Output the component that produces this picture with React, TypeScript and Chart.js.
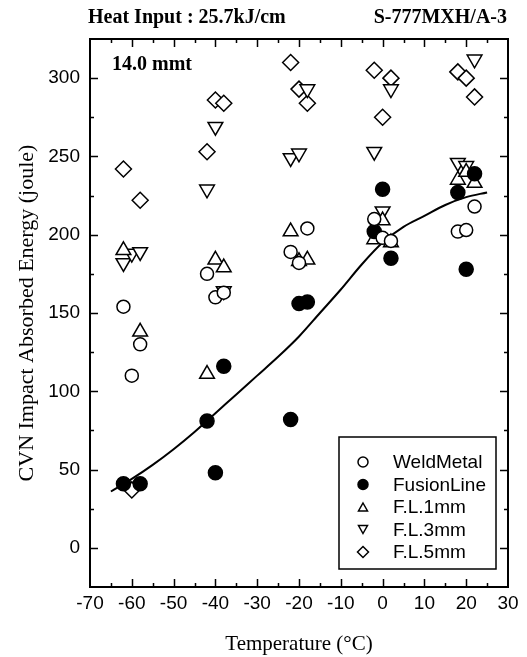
import React, { useEffect, useRef } from 'react';
import { Chart, registerables } from 'chart.js';

Chart.register(...registerables);

// ---- data ----
const weldT = [-62, -60, -58, -42, -40, -38, -22, -20, -18, -2, 0, 2, 18, 20, 22];
const weldE = [154, 110, 130, 175, 160, 163, 189, 182, 204, 210, 198, 196, 202, 203, 218];

const fusionT = [-62, -58, -42, -40, -38, -22, -20, -18, -2, 0, 2, 18, 20, 22];
const fusionE = [41, 41, 81, 48, 116, 82, 156, 157, 202, 229, 185, 227, 178, 239];

const fl1T = [-62, -58, -42, -40, -38, -22, -20, -18, -2, 0, 2, 18, 20, 22];
const fl1E = [190, 138, 111, 184, 179, 202, 183, 184, 197, 209, 195, 235, 240, 233];

const fl3T = [-62, -60, -58, -42, -40, -38, -22, -20, -18, -2, 0, 2, 18, 20, 22];
const fl3E = [182, 188, 189, 229, 269, 164, 249, 252, 293, 253, 215, 293, 246, 244, 312];

const fl5T = [-62, -60, -58, -42, -40, -38, -22, -20, -18, -2, 0, 2, 18, 20, 22];
const fl5E = [242, 37, 222, 253, 286, 284, 310, 293, 284, 305, 275, 300, 304, 300, 288];

const curveT = [-65, -60, -55, -50, -45, -40, -35, -30, -25, -20, -15, -10, -5, 0, 5, 10, 15, 20, 25];
const curveE = [36, 44, 53, 63, 74, 86, 98, 110, 122, 135, 150, 165, 181, 195, 205, 212, 219, 224, 227];

const xTickValues = [-70, -60, -50, -40, -30, -20, -10, 0, 10, 20, 30];
const yTickValues = [0, 50, 100, 150, 200, 250, 300];

const seriesNames = ['WeldMetal', 'FusionLine', 'F.L.1mm', 'F.L.3mm', 'F.L.5mm'];

const toXY = (xs: number[], ys: number[]) => xs.map((x, i) => ({ x, y: ys[i] }));

const SANS = '"Liberation Sans", Arial, sans-serif';
const SERIF = '"Liberation Serif", "Times New Roman", serif';

function drawMarker(ctx: CanvasRenderingContext2D, kind: number, x: number, y: number, r: number) {
  ctx.save();
  ctx.lineWidth = 1.5;
  ctx.strokeStyle = '#000';
  ctx.fillStyle = kind === 1 ? '#000' : '#fff';
  ctx.beginPath();
  if (kind === 0 || kind === 1) {
    ctx.arc(x, y, r, 0, Math.PI * 2);
  } else if (kind === 2) {
    const h = r * 1.6;
    const w = r * 1.8;
    ctx.moveTo(x, y - h / 2);
    ctx.lineTo(x + w / 2, y + h / 2);
    ctx.lineTo(x - w / 2, y + h / 2);
    ctx.closePath();
  } else if (kind === 3) {
    const h = r * 1.6;
    const w = r * 1.8;
    ctx.moveTo(x, y + h / 2);
    ctx.lineTo(x + w / 2, y - h / 2);
    ctx.lineTo(x - w / 2, y - h / 2);
    ctx.closePath();
  } else {
    ctx.moveTo(x, y - r * 1.1);
    ctx.lineTo(x + r * 1.1, y);
    ctx.lineTo(x, y + r * 1.1);
    ctx.lineTo(x - r * 1.1, y);
    ctx.closePath();
  }
  ctx.fill();
  ctx.stroke();
  ctx.restore();
}

const framePlugin = {
  id: 'frameTicks',
  afterDraw(chart: any) {
    const { ctx, chartArea } = chart;
    const xs = chart.scales.x;
    const ys = chart.scales.y;
    const { left, right, top, bottom } = chartArea;
    ctx.save();
    ctx.strokeStyle = '#000';
    ctx.lineWidth = 1.5;
    ctx.beginPath();
    for (let v = -65; v <= 25; v += 5) {
      const px = Math.round(xs.getPixelForValue(v)) + 0.5;
      const len = v % 10 === 0 ? 8 : 4;
      ctx.moveTo(px, bottom);
      ctx.lineTo(px, bottom - len);
      ctx.moveTo(px, top);
      ctx.lineTo(px, top + len);
    }
    for (let v = 0; v <= 300; v += 25) {
      const py = Math.round(ys.getPixelForValue(v)) + 0.5;
      const len = v % 50 === 0 ? 8 : 4;
      ctx.moveTo(left, py);
      ctx.lineTo(left + len, py);
      ctx.moveTo(right, py);
      ctx.lineTo(right - len, py);
    }
    ctx.stroke();
    ctx.lineWidth = 2;
    ctx.strokeRect(left, top, right - left, bottom - top);

    // header texts
    ctx.fillStyle = '#000';
    ctx.font = `bold 20px ${SERIF}`;
    ctx.textBaseline = 'alphabetic';
    ctx.textAlign = 'left';
    ctx.fillText('Heat Input : 25.7kJ/cm', 88, 23);
    ctx.textAlign = 'right';
    ctx.fillText('S-777MXH/A-3', 507, 23);
    ctx.textAlign = 'left';
    ctx.fillText('14.0 mmt', 112, 70);

    // legend
    const bx = 339, by = 437, bw = 157, bh = 132;
    ctx.fillStyle = '#fff';
    ctx.fillRect(bx, by, bw, bh);
    ctx.lineWidth = 1.5;
    ctx.strokeStyle = '#000';
    ctx.strokeRect(bx, by, bw, bh);
    ctx.font = `19px ${SANS}`;
    ctx.textBaseline = 'middle';
    ctx.textAlign = 'left';
    seriesNames.forEach((name, i) => {
      const ry = 462 + i * 22.5;
      drawMarker(ctx, i, 363, ry, 5);
      ctx.fillStyle = '#000';
      ctx.fillText(name, 393, ry + 1);
    });
    ctx.restore();
  },
};

export default function App() {
  const ref = useRef<HTMLCanvasElement | null>(null);

  useEffect(() => {
    if (!ref.current) return;
    const common = { borderColor: '#000', borderWidth: 1.5, showLine: false };
    const chart = new Chart(ref.current, {
      type: 'scatter',
      data: {
        datasets: [
          {
            label: seriesNames[0],
            data: toXY(weldT, weldE),
            pointStyle: 'circle',
            pointRadius: 6.5,
            backgroundColor: '#fff',
            ...common,
            order: 1,
          },
          {
            label: seriesNames[1],
            data: toXY(fusionT, fusionE),
            pointStyle: 'circle',
            pointRadius: 7,
            backgroundColor: '#000',
            ...common,
            order: 2,
          },
          {
            label: seriesNames[2],
            data: toXY(fl1T, fl1E),
            pointStyle: 'triangle',
            pointRadius: 8.5,
            backgroundColor: '#fff',
            ...common,
            order: 3,
          },
          {
            label: seriesNames[3],
            data: toXY(fl3T, fl3E),
            pointStyle: 'triangle',
            pointRotation: 180,
            pointRadius: 8.5,
            backgroundColor: '#fff',
            ...common,
            order: 4,
          },
          {
            label: seriesNames[4],
            data: toXY(fl5T, fl5E),
            pointStyle: 'rectRot',
            pointRadius: 8,
            backgroundColor: '#fff',
            ...common,
            order: 5,
          },
          {
            type: 'line',
            label: 'fit',
            data: toXY(curveT, curveE),
            borderColor: '#000',
            borderWidth: 2,
            pointRadius: 0,
            showLine: true,
            fill: false,
            cubicInterpolationMode: 'monotone',
            order: 10,
          } as any,
        ],
      },
      options: {
        animation: false,
        responsive: false,
        maintainAspectRatio: false,
        events: [],
        layout: { padding: { top: 39, right: 19, left: 0, bottom: 0 } },
        plugins: {
          legend: { display: false },
          tooltip: { enabled: false },
        },
        scales: {
          x: {
            type: 'linear',
            position: 'bottom',
            min: -70,
            max: 30,
            afterBuildTicks: (s: any) => {
              s.ticks = xTickValues.map((v) => ({ value: v }));
            },
            afterFit: (s: any) => {
              s.height = 70;
            },
            grid: { display: false, drawTicks: false },
            border: { display: false },
            ticks: {
              padding: 5,
              color: '#000',
              maxRotation: 0,
              autoSkip: false,
              font: { family: SANS, size: 19 },
            },
            title: {
              display: true,
              text: 'Temperature (°C)',
              color: '#000',
              font: { family: SERIF, size: 21 },
              padding: { top: 0, bottom: 0 },
            },
          },
          y: {
            type: 'linear',
            position: 'left',
            min: -25,
            max: 325,
            afterBuildTicks: (s: any) => {
              s.ticks = yTickValues.map((v) => ({ value: v }));
            },
            afterFit: (s: any) => {
              s.width = 90;
            },
            grid: { display: false, drawTicks: false },
            border: { display: false },
            ticks: {
              padding: 10,
              color: '#000',
              autoSkip: false,
              font: { family: SANS, size: 19 },
            },
            title: {
              display: true,
              text: 'CVN Impact Absorbed Energy (joule)',
              color: '#000',
              font: { family: SERIF, size: 22 },
              padding: { top: 14, bottom: 0 },
            },
          },
        },
      },
      plugins: [framePlugin],
    } as any);
    return () => chart.destroy();
  }, []);

  return (
    <div style={{ position: 'absolute', left: 0, top: 0, width: 527, height: 657, background: '#fff' }}>
      <canvas ref={ref} width={527} height={657} style={{ width: 527, height: 657, display: 'block' }} />
    </div>
  );
}
